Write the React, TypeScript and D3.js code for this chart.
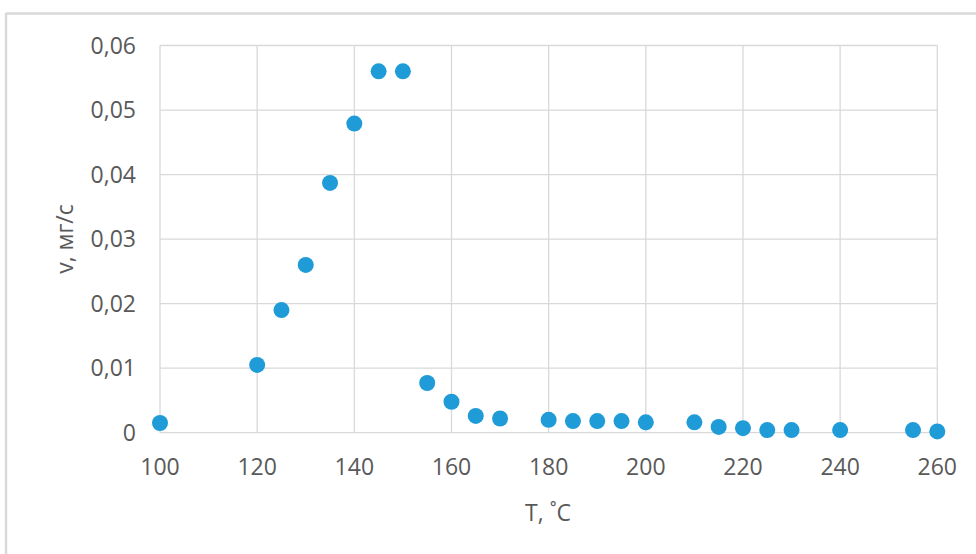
import React from "react";
import * as d3 from "d3";

const temperatures = [100, 120, 125, 130, 135, 140, 145, 150, 155, 160, 165, 170, 180, 185, 190, 195, 200, 210, 215, 220, 225, 230, 240, 255, 260];
const rates = [0.0015, 0.0105, 0.019, 0.026, 0.0387, 0.0479, 0.056, 0.056, 0.0077, 0.0048, 0.0026, 0.0022, 0.002, 0.0018, 0.0018, 0.0018, 0.0016, 0.0016, 0.0009, 0.0007, 0.0004, 0.0004, 0.0004, 0.0004, 0.0002];
const xTicks = [100, 120, 140, 160, 180, 200, 220, 240, 260];
const yTicks = [0, 0.01, 0.02, 0.03, 0.04, 0.05, 0.06];
const xTitle = "T, ˚C";
const yTitle = "v, мг/с";

const W = 976;
const H = 554;
const plot = { left: 160, right: 937.3, top: 45.5, bottom: 432.7 };
const font = "'Open Sans', 'Segoe UI', sans-serif";
const textColor = "#595959";
const gridColor = "#d9d9d9";
const dotColor = "#1f9bd7";
const fs = 23;

export default function App() {
  const x = d3.scaleLinear().domain([100, 260]).range([plot.left, plot.right]);
  const y = d3.scaleLinear().domain([0, 0.06]).range([plot.bottom, plot.top]);
  const fmt = (v: number) => (v === 0 ? "0" : d3.format(".2f")(v).replace(".", ","));

  return (
    <svg
      width={W}
      height={H}
      style={{ position: "fixed", left: 0, top: 0, display: "block", background: "#fff" }}
    >
      <rect x={0} y={0} width={W} height={H} fill="#fff" />
      {/* chart frame */}
      <line x1={6} y1={13.5} x2={W} y2={13.5} stroke="#d9d9d9" strokeWidth={2.5} />
      <line x1={6} y1={13} x2={6} y2={H} stroke="#d9d9d9" strokeWidth={2.5} />

      {/* gridlines */}
      {yTicks.map((t) => (
        <line key={"gy" + t} x1={plot.left} x2={plot.right} y1={y(t)} y2={y(t)} stroke={gridColor} strokeWidth={1.3} />
      ))}
      {xTicks.map((t) => (
        <line key={"gx" + t} x1={x(t)} x2={x(t)} y1={plot.top} y2={plot.bottom} stroke={gridColor} strokeWidth={1.3} />
      ))}

      {/* tick labels */}
      {yTicks.map((t) => (
        <text key={"ly" + t} x={136} y={y(t)} dy="0.36em" textAnchor="end" fontFamily={font} fontSize={fs} fill={textColor}>
          {fmt(t)}
        </text>
      ))}
      {xTicks.map((t) => (
        <text key={"lx" + t} x={x(t)} y={475} textAnchor="middle" fontFamily={font} fontSize={fs} fill={textColor}>
          {t}
        </text>
      ))}

      {/* axis titles */}
      <text x={548} y={521} textAnchor="middle" fontFamily={font} fontSize={fs} fill={textColor}>
        {xTitle}
      </text>
      <text
        transform={`translate(73,239) rotate(-90)`}
        textAnchor="middle"
        fontFamily={font}
        fontSize={fs}
        fill={textColor}
      >
        {yTitle}
      </text>

      {/* data points */}
      {temperatures.map((t, i) => (
        <circle key={"p" + i} cx={x(t)} cy={y(rates[i])} r={8} fill={dotColor} />
      ))}
    </svg>
  );
}
